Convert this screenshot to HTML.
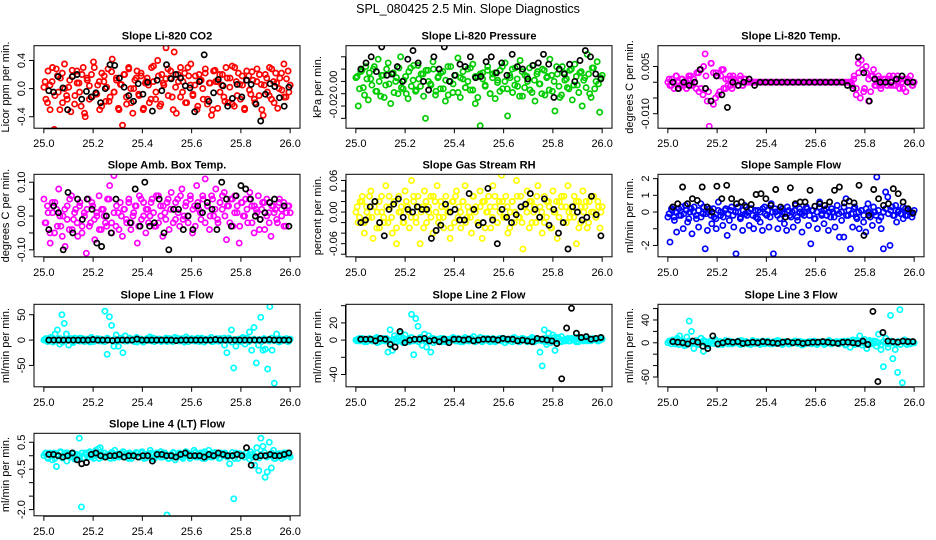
<!DOCTYPE html>
<html><head><meta charset="utf-8">
<style>
html,body{margin:0;padding:0;background:#fff;}
svg{display:block;font-family:"Liberation Sans",sans-serif;}
</style></head>
<body>
<svg id="chart" width="936" height="540" viewBox="0 0 936 540" xmlns="http://www.w3.org/2000/svg">
<rect width="936" height="540" fill="#fff"/>
<text x="468" y="13" text-anchor="middle" font-size="12.5">SPL_080425  2.5 Min. Slope Diagnostics</text>
</svg>
<script>
const xTicks = [25.0, 25.2, 25.4, 25.6, 25.8, 26.0];
const xTickLabels = ["25.0","25.2","25.4","25.6","25.8","26.0"];

const co2Vals = [0.02,-0.15,0.25,-0.3,0.1,-0.58,0.28,-0.05,0.15,-0.2,0.35,-0.1,0.02,-0.33,0.18,-0.1,0.25,0.08,-0.25,0.3,-0.4,0.12,-0.15,0.2,0.38,-0.08,0.05,-0.3,0.22,0.1,-0.18,0.28,-0.12,0.42,-0.05,0.15,-0.28,0.06,-0.52,0.2,-0.22,0.3,0.0,-0.35,0.12,0.25,-0.1,0.18,-0.3,0.08,0.15,-0.2,0.3,0.1,-0.15,0.4,-0.25,0.2,0.05,0.58,0.28,0.15,-0.12,0.52,-0.35,0.1,0.3,-0.05,0.22,-0.2,0.18,0.35,-0.1,0.05,-0.3,0.2,0.12,-0.15,0.28,-0.22,0.08,-0.38,0.25,0.1,-0.28,0.2,0.05,-0.12,0.3,-0.2,0.15,0.32,-0.25,0.1,0.22,-0.15,0.05,-0.3,0.25,0.18,-0.08,0.12,-0.2,0.28,-0.1,0.06,-0.38,0.2,-0.05,0.3,-0.15,0.1,0.22,-0.28,0.15,-0.02,0.35,-0.12,0.25,0.05];
const co2Vals2 = [0.1,-0.2,0.05,0.3,-0.1,0.18,-0.3,0.22,0.0,-0.15,0.12,0.26,-0.22,0.08,-0.05,0.2,-0.35,0.15,0.04,-0.12,0.3,-0.08,0.1,-0.25,0.18,0.02,-0.18,0.24,-0.05,0.12,-0.3,0.06,0.2,-0.12,0.28,-0.2,0.0,0.15,-0.08,0.22,-0.28,0.1,0.05,-0.15,0.32,-0.05,0.18,-0.22,0.08,0.14,-0.1,0.25,-0.3,0.02,0.2,-0.12,0.1,-0.2,0.3,0.05,-0.08,0.18,-0.25,0.12,0.0,0.22,-0.15,0.08,-0.3,0.26,0.1,-0.05,0.2,-0.18,0.15,0.02,-0.22,0.3,-0.1,0.06,0.18,-0.28,0.12,-0.02,0.24,-0.15,0.1,0.2,-0.3,0.05,0.15,-0.1,0.28,-0.2,0.08,0.0,0.22,-0.12,0.14,-0.05];
const co2Black = [-0.03,-0.05,0.17,0.01,-0.3,0.17,0.2,-0.15,-0.04,-0.12,-0.06,-0.2,0.0,0.34,0.33,0.15,0.02,-0.1,-0.18,0.07,-0.08,0.09,-0.32,0.12,-0.03,0.34,0.14,0.2,0.15,0.04,0.01,-0.33,0.1,0.48,-0.18,-0.06,0.13,0.04,-0.25,-0.14,0.06,-0.12,0.12,0.06,-0.22,-0.46,-0.08,0.07,0.03,-0.13,-0.25,0.02];

const presVals = [0.003,-0.02,0.008,-0.005,0.012,-0.015,0.002,0.01,-0.008,0.018,-0.012,0.005,-0.003,0.015,-0.018,0.007,0.0,-0.01,0.02,-0.006,0.004,-0.014,0.011,0.001,-0.008,0.013,-0.004,0.006,-0.03,0.009,-0.002,0.016,-0.011,0.003,-0.006,0.008,-0.016,0.012,0.0,-0.009,0.005,0.019,-0.013,0.002,-0.005,0.01,-0.007,0.014,-0.018,0.004,-0.036,0.007,-0.003,0.012,-0.01,0.006,-0.014,0.001,0.009,-0.006,0.015,-0.028,0.003,-0.009,0.011,-0.004,0.017,-0.012,0.005,0.0,-0.007,0.013,-0.016,0.008,-0.002,0.01,-0.011,0.004,0.018,-0.008,-0.024,0.006,-0.013,0.012,0.001,-0.005,0.009,-0.015,0.014,-0.003,0.007,-0.02,0.003,0.022,-0.01,0.011,-0.006,0.016,-0.025,0.005];
const presVals2 = [0.004,-0.006,0.009,-0.011,0.002,0.007,-0.003,0.012,-0.008,0.0,0.005,-0.013,0.01,-0.002,0.006,-0.009,0.003,0.011,-0.005,0.001,-0.01,0.008,-0.004,0.013,-0.007,0.002,0.006,-0.012,0.009,0.0,-0.003,0.01,-0.008,0.004,0.007,-0.006,0.001,-0.011,0.012,-0.002,0.005,-0.009,0.003,0.008,-0.005,0.0,0.011,-0.007,0.004,-0.013,0.006,0.002,-0.004,0.009,-0.01,0.003,0.007,-0.001,-0.008,0.012,0.0,-0.006,0.005,0.01,-0.003,0.002,-0.012,0.008,-0.005,0.004,0.011,-0.009,0.001,0.006,-0.002,-0.01,0.009,0.003,-0.007,0.005,0.0,0.012,-0.004,-0.011,0.007,0.002,-0.006,0.01,-0.003,0.004,-0.009,0.008,0.001,-0.005,0.006,-0.013,0.011,0.0,-0.002,0.003];
const presBlack = [0.01,0.015,0.02,0.008,0.028,0.005,0.006,0.012,0.0,0.018,0.025,0.015,0.0,-0.007,0.02,0.01,0.028,0.0,0.005,0.014,0.012,0.02,0.003,0.004,0.016,0.02,0.007,0.015,0.005,0.022,0.012,0.01,0.002,0.013,0.015,0.022,0.014,-0.013,0.01,0.006,0.014,0.0,0.017,0.025,0.02,0.006,0.002];

const tempVals = [0.0,-0.001,0.001,-0.002,0.002,0.0,-0.001,0.001,0.0,-0.002,0.001,0.002,-0.001,0.0,0.003,-0.003,0.004,-0.004,0.009,-0.006,-0.014,0.006,0.003,-0.005,0.002,-0.003,0.004,-0.002,0.001,-0.001,0.002,-0.002,0.001,0.0,-0.001,0.002,-0.001,0.001,0.0,0.0,0.0,0.0,
0,0,0,0,0,0,0,0,0,0,0,0,0,0,0,0,0,0,0,0,0,0,0,0,0,0,0,0,0,0,0,0,0,0,0,0,0,0,0,0,0,0,0,0,0,0,0,
-0.001,0.002,-0.004,0.006,-0.005,0.004,-0.002,0.003,0.001,-0.003,0.002,-0.001,0.0,0.001,-0.001,0.0,
0.001,-0.001,0.002,0.0,-0.001,0.001,0.002,-0.002,0.0,0.001,-0.003,0.001,0.0,-0.001,0.0];
const tempVals2 = [0.001,-0.001,0.0,0.002,-0.002,0.001,-0.001,0.0,0.002,-0.001,0.001,-0.002,0.003,-0.002,0.005,0.002,-0.003,0.006,-0.007,0.003,-0.004,0.002,0.004,-0.002,0.001,-0.001,0.002,0.0,-0.001,0.001,-0.001,0.001,0.0,0.0,0.0,
0,0,0,0,0,0,0,0,0,0,0,0,0,0,0,0,0,0,0,0,0,0,0,0,0,0,0,0,0,0,0,0,0,0,0,0,0,0,0,0,
0.001,-0.002,0.003,0.007,-0.003,0.005,-0.006,0.002,0.004,-0.001,0.002,-0.002,0.001,0.0,0.001,-0.001,0.002,-0.001,0.0,0.001,-0.002,0.001,0.0,0.002,-0.001];
const tempBlack = [0,-0.002,0,-0.001,0,0.004,-0.002,-0.006,0.002,-0.004,-0.008,0,-0.001,0,0.001,-0.001,0,0,0,0,0,0,0,0,0,0,0,0,0,0,0,0,-0.001,-0.002,0.008,0.003,-0.006,0.001,0,0,0,0.001,0.002,0,0];

const ambVals = [0.05,-0.02,0.01,-0.08,0.04,-0.05,0.02,0.08,-0.03,0.0,-0.09,0.03,-0.04,0.06,-0.01,0.02,-0.06,0.04,-0.03,0.01,-0.11,0.05,-0.02,0.03,-0.07,0.0,0.06,-0.04,0.02,-0.02,0.05,0.09,-0.05,0.12,-0.03,0.01,0.04,-0.06,0.02,-0.02,0.05,-0.04,0.0,0.03,-0.08,0.06,-0.01,0.04,-0.05,0.02,0.0,0.05,-0.03,0.06,-0.02,0.03,-0.06,0.01,0.04,-0.04,0.07,0.02,-0.01,0.05,-0.03,0.08,0.0,0.04,-0.02,0.06,-0.05,0.03,0.09,0.02,-0.01,0.05,0.11,0.03,-0.04,0.06,0.0,0.08,-0.02,0.04,0.02,0.07,-0.07,0.03,0.05,-0.03,0.06,0.01,-0.08,0.04,0.0,0.05,-0.02,0.07,0.03,-0.05,0.02,0.06,-0.01,0.04,-0.04,0.05,0.01,-0.06,0.03,0.02,-0.02,0.05,0.0,0.04,-0.03,0.03,0.01];
const ambVals2 = [-0.02,0.03,-0.05,0.01,0.04,-0.03,0.0,-0.06,0.02,-0.01,0.05,-0.04,0.01,-0.02,0.03,-0.05,0.0,0.02,-0.03,0.04,-0.01,0.01,-0.04,0.02,0.0,-0.03,0.05,-0.02,0.01,0.03,-0.04,0.0,0.02,-0.01,0.04,-0.02,0.01,0.03,-0.03,0.05,0.0,0.02,-0.02,0.04,0.01,-0.03,0.06,0.0,0.03,-0.01,0.05,0.02,-0.02,0.04,0.01,0.06,-0.01,0.03,0.0,0.05,0.02,-0.03,0.04,0.01,0.06,-0.02,0.03,0.0,0.05,0.02,-0.01,0.04,0.06,0.0,0.03,-0.02,0.05,0.01,0.03,-0.03,0.04,0.0,0.02,0.05,-0.02,0.03,0.01,-0.04,0.02,0.04,0.0,-0.02,0.03,0.01,-0.01,0.04,0.02,-0.03,0.01,0.03];
const ambBlack = [-0.04,0.03,0.01,-0.1,0.07,-0.05,0.05,-0.01,0.05,0.02,-0.08,-0.09,0.0,-0.05,0.05,-0.13,-0.14,-0.02,0.08,-0.03,0.1,-0.03,-0.02,0.05,-0.05,-0.1,0.02,0.02,-0.04,0.0,-0.04,0.03,0.01,0.04,0.02,-0.04,0.1,0.05,-0.03,0.06,0.09,0.08,0.05,0.0,-0.01,0.01,0.04,0.05,-0.15,0.03,-0.03];

const rhVals = [0.0,-0.02,0.02,0.03,-0.04,0.01,-0.01,0.04,-0.05,0.02,0.0,-0.03,0.03,-0.01,0.05,-0.02,0.01,-0.04,0.02,-0.06,0.03,0.0,-0.02,0.04,0.01,-0.03,0.06,0.02,-0.01,0.03,-0.06,0.01,0.04,-0.02,0.0,0.03,-0.04,0.02,0.05,-0.01,0.01,-0.03,0.03,0.0,-0.05,0.02,-0.02,0.04,0.01,-0.03,0.02,0.05,-0.01,0.0,-0.04,0.03,0.01,-0.02,0.04,-0.05,0.02,0.0,0.03,-0.03,0.05,0.01,-0.02,0.02,0.07,-0.01,0.03,-0.04,0.0,0.02,-0.02,0.06,-0.01,0.03,-0.07,0.01,0.04,-0.03,0.02,0.0,-0.02,0.05,0.01,-0.04,0.03,-0.01,0.02,-0.03,0.04,0.0,-0.05,0.02,0.03,-0.02,0.01,0.05,-0.01,0.0,0.03,-0.06,0.02,-0.02,0.04,0.01,-0.03,0.02,0.0,0.03,-0.01,0.02,-0.03,0.01];
const rhVals2 = [0.01,-0.01,0.02,-0.02,0.0,0.03,-0.01,0.01,-0.03,0.02,0.0,-0.02,0.01,0.03,-0.01,0.02,-0.03,0.0,0.01,-0.02,0.02,0.0,-0.01,0.03,-0.02,0.01,0.0,-0.03,0.02,0.01,-0.01,0.03,0.0,-0.02,0.02,-0.01,0.01,0.0,-0.03,0.02,0.03,-0.01,0.0,0.02,-0.02,0.01,-0.01,0.03,0.0,-0.02,0.01,0.02,-0.03,0.0,0.01,-0.01,0.03,-0.02,0.0,0.02,-0.01,0.01,-0.03,0.02,0.0,0.03,-0.01,-0.02,0.01,0.0,0.02,-0.02,0.01,0.03,-0.01,0.0,-0.02,0.02,0.01,-0.03,0.0,0.02,-0.01,0.01,0.03,-0.02,0.0,0.01,-0.01,0.02,-0.03,0.01,0.0,0.02,-0.02,0.03,0.0,-0.01,0.01,0.0];
const rhBlack = [-0.02,-0.015,0.01,0.02,-0.02,-0.045,0.005,0.015,0.025,-0.01,0.005,0.0,0.01,0.005,0.005,-0.05,-0.035,-0.025,0.015,0.0,0.005,-0.015,-0.015,0.035,0.005,-0.025,-0.02,0.045,-0.015,-0.06,0.005,-0.01,-0.02,-0.005,0.01,0.015,0.035,0.005,-0.01,0.025,-0.025,0.005,-0.04,-0.02,-0.07,0.01,0.0,-0.015,-0.01,0.03,-0.005,-0.045];

const flowVals = [-0.3,-1.8,0.1,-0.5,-1.2,0.2,-0.2,-1.0,0.4,-0.6,0.0,-1.3,0.3,-0.4,-0.9,0.5,-0.1,-2.2,-1.1,0.2,-0.7,-0.3,-1.0,0.6,-0.2,-0.8,0.1,-1.4,-0.5,0.3,-0.9,-2.5,0.0,-0.4,-1.1,0.4,-0.2,-0.8,0.2,-1.0,-0.3,0.1,-0.6,-1.1,0.3,-0.2,-0.9,0.5,-2.5,0.0,-1.0,-0.4,0.2,-0.7,-1.1,0.1,-0.3,-0.9,0.4,-0.5,0.0,-1.2,-0.2,0.3,-0.8,-1.9,0.1,-0.4,-1.0,0.6,-0.2,-0.7,0.2,-1.1,-0.3,0.0,-0.9,0.4,-1.5,-0.5,-1.5,0.8,-0.2,-2.2,-0.9,0.3,-0.4,-1.0,0.1,-0.6,-1.2,0.5,-0.3,-0.8,0.0,2.1,-0.5,-1.0,-2.2,1.2,0.9,-2.0,0.3,-0.2,-0.6,0.1,-0.1,-0.4,0.2,-0.2,0.0,-0.3,0.1];
const flowVals2 = [-0.1,0.2,-0.3,0.0,-0.2,0.3,-0.1,0.1,-0.4,0.2,0.0,-0.2,0.1,-0.3,0.3,-0.1,0.0,-0.2,0.2,-0.4,0.1,0.0,-0.3,0.2,-0.1,0.1,-0.2,0.0,0.3,-0.3,0.1,-0.1,0.0,0.2,-0.2,0.1,-0.4,0.0,0.2,-0.1,0.1,-0.3,0.0,0.2,-0.2,0.1,0.0,-0.1,0.3,-0.2,0.0,0.1,-0.3,0.2,-0.1,0.0,0.2,-0.2,0.1,-0.4,0.0,0.3,-0.1,0.1,-0.2,0.0,0.2,-0.3,0.1,-0.1,0.0,0.3,-0.2,0.1,-0.1,0.2,-0.3,0.0,0.1,-0.2,0.2,0.0,-0.1,0.3,-0.2,0.1,-0.3,0.0,0.2,-0.1,0.1,-0.2,0.4,0.0,-0.1,0.3,-0.2,0.1,0.0,-0.1];
const flowBlack = [0.3,0.5,1.5,0.5,0.8,0.7,1.5,0.3,0.0,1.55,0.8,1.6,0.8,0.5,0.6,0.3,0.45,1.05,1.1,0.8,0.4,1.35,0.3,-0.3,1.45,0.5,0.6,0.6,1.3,0.35,0.5,0.4,0.6,1.3,1.5,0.55,0.65,0.55,1.6,-1.4,-0.2,1.35,0.8,0.4,0.5,1.4,1.1,0.6,0.2,-0.05];

const line1Vals = [0,3,-2,5,-4,12,20,-8,50,33,12,-10,3,-5,2,-1,4,0,-3,2,-2,5,-3,1,0,2,-2,57,-28,46,29,-12,10,-12,4,-25,8,-2,3,0,-3,5,-1,2,-4,1,0,6,-2,3,-1,2,-3,0,4,-2,1,-3,5,0,-2,3,-1,6,-3,2,0,-2,4,-1,3,-4,2,0,5,-3,1,-2,3,0,-10,-25,4,20,-55,-12,2,-3,5,-8,1,16,-20,25,-45,-10,45,-20,-18,-57,66,-20,-85,12,3,-2,1,0,-3,2];
const line1Vals2 = [2,-3,1,4,-2,0,3,-4,1,-1,2,-3,4,0,-2,3,-1,1,-4,2,0,3,-2,1,-3,4,0,-1,2,-3,1,3,-2,0,4,-1,2,-4,1,0,-2,3,-1,4,-3,0,2,-1,1,-3,3,0,-2,4,-1,1,-4,2,0,3,-2,1,-3,4,0,-1,2,-3,1,3,-2,0,4,-1,2,-4,1,0,-2,3,-1,4,-3,0,2,-1,1,-3,3,0,-2,4,-1,1,-4,2,0,3,-2];
const line1Black = [0,0,0,0,0,0,0,0,0,1,0,0,0,-1,0,0,0,0,2,0,0,0,0,0,0,0,-1,0,0,0,0,0,0,0,1,0,0,0,0,0,0,0,0,0,0,1,0,0,0,0];

const line2Vals = [0,1,-1,2,0,-2,1,0,-1,2,-3,1,0,2,-1,-14,12,-12,5,-2,3,8,-3,6,1,-2,30,-17,25,16,3,-6,7,-8,5,-14,2,-1,0,1,-2,2,0,-1,1,0,2,-1,0,1,-2,3,0,-1,2,4,-1,1,0,-2,2,1,-1,0,2,-2,1,0,-1,2,0,-1,1,-2,3,0,1,-1,2,0,-2,1,0,2,-1,1,-14,-30,12,-5,8,-3,6,-12,3,-2,4,0,-1,2,-1,1,0,3,-2,1,0,2,-1,1,0,2,1,-1,0,1];
const line2Vals2 = [-1,2,0,-2,1,2,-1,0,3,-2,1,-1,2,0,-3,1,2,-1,0,2,-2,1,3,-1,0,-2,2,1,-1,0,2,-3,1,0,2,-1,-2,1,0,3,-1,2,-2,0,1,-1,2,0,-2,1,3,-1,0,2,-2,1,-1,0,2,1,-3,0,1,2,-1,0,-2,2,1,-1,0,3,-2,1,0,-1,2,-2,1,0,3,-1,2,-2,0,1,-1,2,0,-2,1,2,-1,0,2,-1,1,0,-1,2];
const line2Black = [1,1,1,-1,2,1,-5,-8,10,-3,0,1,1,2,-1,0,-2,1,-3,1,1,0,1,-1,0,1,1,1,0,2,1,1,-1,0,-1,-2,2,1,0,-1,-4,-45,14,37,8,3,4,1,2,3];

const line3Vals = [0,2,5,-2,8,12,3,-5,10,38,20,-10,4,-3,8,-15,2,-5,3,0,6,-2,2,-3,1,0,3,-2,1,0,-1,4,-2,2,0,-3,1,-1,2,0,3,-2,1,0,-2,2,-1,3,0,-1,2,-2,1,0,3,-1,2,0,-2,1,-1,2,0,-3,1,2,0,-1,3,-2,1,0,-1,2,0,-4,3,-8,5,-3,2,12,-4,6,-10,4,-2,3,-6,15,-12,-42,8,-8,48,-28,-12,-52,58,-70,5,-3,2,1,0];
const line3Vals2 = [3,-2,1,4,-3,0,2,-4,3,-1,0,2,-3,1,4,-2,0,3,-1,2,-3,1,0,4,-2,2,-1,0,3,-3,1,2,-2,0,4,-1,1,-3,2,0,3,-2,1,-1,4,0,-3,2,1,-2,0,3,-1,2,-4,1,0,2,-2,3,-1,1,0,-3,2,4,-1,0,2,-2,1,3,-3,0,2,-1,4,-2,1,0,-3,3,1,-1,2,0,-4,2,1,-2,3,0,-1,2,-3,1,4,0,-2,1];
const line3Black = [2,1,0,-2,3,1,-6,-10,12,-2,0,2,1,2,-1,0,1,0,2,1,0,-1,1,2,0,1,-1,0,1,1,2,1,0,-1,1,1,0,-1,3,-3,55,-68,18,3,2,1,3,2,2];

const line4Vals = [0,0.1,-0.1,0.05,-0.15,0.1,-0.4,0.0,0.15,-0.05,0.1,-0.2,0.05,0.0,0.1,-0.05,0.0,0.65,-1.9,-0.1,0.1,-0.05,0.15,0.0,-0.1,0.2,0.25,0.3,-0.05,0.1,0.0,0.05,-0.1,0.1,0.2,0.0,-0.05,0.1,0.15,-0.05,0.0,0.1,-0.1,0.05,0.0,0.1,-0.05,0.15,-0.1,0.05,0.0,0.2,0.05,-0.1,0.1,0.0,0.15,-0.05,0.1,-2.2,-0.1,0.05,0.1,-0.15,0.0,0.1,-0.05,0.05,0.15,0.0,-0.1,0.05,0.2,-0.05,0.0,0.1,-0.1,0.15,0.0,0.2,-0.05,0.1,0.0,0.05,-0.1,0.1,0.0,0.05,0.0,-0.3,0.0,-1.6,0.1,-0.1,0.05,0.0,-0.05,0.1,0.0,0.15,-0.05,-0.35,0.3,-0.55,0.65,0.35,-0.8,-0.6,0.5,-0.45,0.2,-0.1,0.05,0.0,-0.1,0.1,0.0,0.05,-0.05];
const line4Vals2 = [0.08,-0.05,0.1,0.0,-0.1,0.05,0.12,-0.08,0.0,0.1,-0.05,0.08,-0.12,0.05,0.0,0.1,-0.08,0.05,0.12,-0.05,0.0,0.08,-0.1,0.05,0.1,-0.05,0.0,0.12,-0.08,0.05,0.0,0.1,-0.05,0.08,-0.1,0.05,0.0,0.12,-0.05,0.1,0.0,-0.08,0.05,0.1,-0.12,0.0,0.08,-0.05,0.1,0.05,-0.1,0.0,0.12,-0.05,0.08,0.0,-0.1,0.05,0.1,-0.08,0.0,0.12,-0.05,0.05,0.1,-0.1,0.0,0.08,-0.05,0.12,0.0,-0.08,0.05,0.1,-0.05,0.0,0.12,-0.1,0.05,0.08,0.0,-0.05,0.1,-0.12,0.05,0.0,0.1,-0.08,0.05,0.12,-0.05,0.0,0.1,-0.1,0.05,0.08,0.0,-0.05,0.1,0.0];
const line4Black = [0.05,0.05,0.0,-0.05,0.0,0.1,-0.15,-0.3,-0.25,0.05,0.1,0.0,-0.05,0.0,0.0,0.05,-0.05,0.0,0.0,-0.05,0.0,0.0,-0.2,0.05,0.05,0.0,0.0,-0.05,0.05,0.1,0.0,0.0,0.0,-0.05,0.05,0.0,0.1,0.05,0.0,0.0,0.05,0.0,0.3,-0.35,-0.05,0.0,0.0,0.05,0.0,0.0,0.05,0.1];

const panelTitles = ["Slope Li-820 CO2","Slope Li-820 Pressure","Slope Li-820 Temp.","Slope Amb. Box Temp.","Slope Gas Stream RH","Slope Sample Flow","Slope Line 1 Flow","Slope Line 2 Flow","Slope Line 3 Flow","Slope Line 4 (LT) Flow"];
const yTitles = ["Licor ppm per min.","kPa per min.","degrees C per min.","degrees C per min.","percent per min.","ml/min per min.","ml/min per min.","ml/min per min.","ml/min per min.","ml/min per min."];
const yTicks = [[-0.4,0,0.4],[0.02,0.01,0,-0.01,-0.02,-0.03],[0.005,0,-0.005,-0.01],[0.1,0.05,0,-0.05,-0.1],[0.06,0.04,0.02,0,-0.02,-0.04,-0.06,-0.08],[2,1,0,-1,-2],[50,0,-50],[40,20,0,-20,-40],[60,40,20,0,-20,-40,-60],[0.5,0,-0.5,-1,-1.5,-2]];
const yTickLabels = [["-0.4","0.0","0.4"],["","","0.00","","-0.02",""],["0.005","","","-0.010"],["0.10","","0.00","","-0.10"],["0.06","","","0.00","","","-0.06",""],["2","1","0","","-2"],["50","0","-50"],["","20","0","","-40"],["","40","","0","","","-60"],["0.5","","-0.5","","","-2.0"]];
const yDomains = [[-0.563,0.61],[-0.038,0.029],[-0.0146,0.0116],[-0.1206,0.1235],[-0.0849,0.0717],[-2.68,2.26],[-92.2,70.6],[-54.3,41.6],[-77.2,67.5],[-2.23,0.833]];
const seriesColors = ["#ff0000","#00cd00","#ff00ff","#ff00ff","#ffff00","#0000ff","#00ffff","#00ffff","#00ffff","#00ffff"];
const colorSeries = [co2Vals,presVals,tempVals,ambVals,rhVals,flowVals,line1Vals,line2Vals,line3Vals,line4Vals];
const colorSeries2 = [co2Vals2,presVals2,tempVals2,ambVals2,rhVals2,flowVals2,line1Vals2,line2Vals2,line3Vals2,line4Vals2];
const blackSeries = [co2Black,presBlack,tempBlack,ambBlack,rhBlack,flowBlack,line1Black,line2Black,line3Black,line4Black];
const panelKeys = ["co2","pressure","licor-temp","amb-box-temp","gas-rh","sample-flow","line1-flow","line2-flow","line3-flow","line4-flow"];

const NS = "http://www.w3.org/2000/svg";
const svg = document.getElementById("chart");
const rowTops = [45.7, 174.3, 304.3, 433.3];
function mk(tag, attrs, parent){ const e=document.createElementNS(NS,tag); for(const k in attrs) e.setAttribute(k,attrs[k]); parent.appendChild(e); return e; }

for (let p=0;p<10;p++){
  const col=p%3, row=Math.floor(p/3);
  const L=34+col*312, W=266, T=rowTops[row], H=82.5;
  const g=mk("g",{},svg);
  
  
  const [y0,y1]=yDomains[p];
  const xs = v => L + 9.85 + (v-25)*246.3;
  const ys = v => T + H - (v-y0)/(y1-y0)*H;
  const clip = mk("clipPath",{id:"clip"+p},g);
  mk("rect",{x:L,y:T,width:W,height:H},clip);
  const pg=mk("g",{"clip-path":"url(#clip"+p+")"},g);
  
  
  const cv=colorSeries[p];
  cv.forEach((v,i)=>{
    const c=mk("circle",{cx:xs(25+i/(cv.length-1)).toFixed(1),cy:ys(v).toFixed(1),r:2.6,fill:"none",stroke:seriesColors[p],"stroke-width":1.7},pg);
    
    
  });
  const cv2=colorSeries2[p];
  cv2.forEach((v,i)=>{
    const c=mk("circle",{cx:xs(25+(i+0.5)/cv2.length).toFixed(1),cy:ys(v).toFixed(1),r:2.6,fill:"none",stroke:seriesColors[p],"stroke-width":1.7},pg);
    
    
  });
  const bv=blackSeries[p];
  bv.forEach((v,i)=>{
    const c=mk("circle",{cx:xs(25.02+0.975*i/(bv.length-1)).toFixed(1),cy:ys(v).toFixed(1),r:2.6,fill:"none",stroke:"#000","stroke-width":1.7},pg);
    
    
  });
  const box=mk("rect",{x:L,y:T,width:W,height:H,fill:"none",stroke:"#000","stroke-width":1},g);
  
  
  const t=mk("text",{x:L+W/2,y:T-6,"text-anchor":"middle","font-size":11,"font-weight":"bold"},g);
  t.textContent=panelTitles[p];
  
  
  const xa=mk("g",{},g);
  
  
  mk("line",{x1:xs(25),x2:xs(26),y1:T+H+0.5,y2:T+H+0.5,stroke:"#000"},xa);
  xTicks.forEach((v,i)=>{
    mk("line",{x1:xs(v),x2:xs(v),y1:T+H,y2:T+H+5,stroke:"#000"},xa);
    const tl=mk("text",{x:xs(v),y:T+H+19,"text-anchor":"middle","font-size":11},xa);
    tl.textContent=xTickLabels[i];
    
    
  });
  const ya=mk("g",{},g);
  
  
  const tk=yTicks[p];
  mk("line",{x1:L-0.5,x2:L-0.5,y1:ys(tk[0]),y2:ys(tk[tk.length-1]),stroke:"#000"},ya);
  tk.forEach((v,i)=>{
    const y=ys(v);
    mk("line",{x1:L-5,x2:L,y1:y,y2:y,stroke:"#000"},ya);
    if (yTickLabels[p][i]){
      const tl=mk("text",{x:0,y:0,"text-anchor":"middle","font-size":11,transform:"translate("+(L-9)+","+y.toFixed(1)+") rotate(-90)"},ya);
      tl.textContent=yTickLabels[p][i];
      
      
    }
  });
  const yt=mk("text",{x:0,y:0,"text-anchor":"middle","font-size":11,transform:"translate("+(L-25)+","+(T+H/2)+") rotate(-90)"},g);
  yt.textContent=yTitles[p];
  
  
}
</script>
</body></html>
